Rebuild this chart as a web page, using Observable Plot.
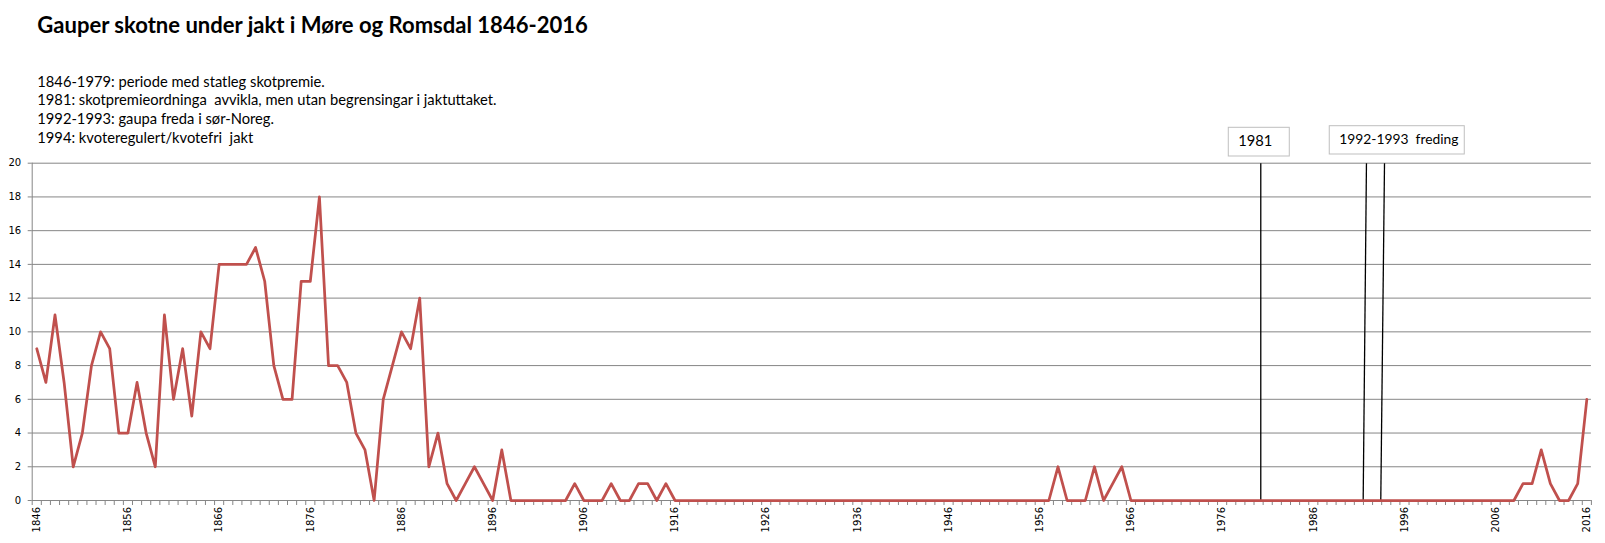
<!DOCTYPE html>
<html>
<head>
<meta charset="utf-8">
<script src="https://cdn.jsdelivr.net/npm/d3@7"></script>
<script src="https://cdn.jsdelivr.net/npm/@observablehq/plot@0.6"></script>
<style>
  html, body { margin: 0; padding: 0; background: #fff; }
  #chart { position: relative; width: 1605px; height: 543px; overflow: hidden; }
</style>
</head>
<body>
<div id="chart"></div>
<script>
// ---- data ----
const years = d3.range(1846, 2017);
const lynx = [
  9, 7, 11, 7, 2, 4, 8, 10, 9, 4,          // 1846-1855
  4, 7, 4, 2, 11, 6, 9, 5, 10, 9,          // 1856-1865
  14, 14, 14, 14, 15, 13, 8, 6, 6, 13,     // 1866-1875
  13, 18, 8, 8, 7, 4, 3, 0, 6, 8,          // 1876-1885
  10, 9, 12, 2, 4, 1, 0, 1, 2, 1,          // 1886-1895
  0, 3, 0, 0, 0, 0, 0, 0, 0, 1,            // 1896-1905
  0, 0, 0, 1, 0, 0, 1, 1, 0, 1,            // 1906-1915
  0, 0, 0, 0, 0, 0, 0, 0, 0, 0,            // 1916-1925
  0, 0, 0, 0, 0, 0, 0, 0, 0, 0,            // 1926-1935
  0, 0, 0, 0, 0, 0, 0, 0, 0, 0,            // 1936-1945
  0, 0, 0, 0, 0, 0, 0, 0, 0, 0,            // 1946-1955
  0, 0, 2, 0, 0, 0, 2, 0, 1, 2,            // 1956-1965
  0, 0, 0, 0, 0, 0, 0, 0, 0, 0,            // 1966-1975
  0, 0, 0, 0, 0, 0, 0, 0, 0, 0,            // 1976-1985
  0, 0, 0, 0, 0, 0, 0, 0, 0, 0,            // 1986-1995
  0, 0, 0, 0, 0, 0, 0, 0, 0, 0,            // 1996-2005
  0, 0, 0, 1, 1, 3, 1, 0, 0, 1,            // 2006-2015
  6                                        // 2016
];
const yTicks = [0, 2, 4, 6, 8, 10, 12, 14, 16, 18, 20];
const xLabelYears = [1846, 1856, 1866, 1876, 1886, 1896, 1906, 1916, 1926, 1936, 1946, 1956, 1966, 1976, 1986, 1996, 2006, 2016];
const xTickBounds = d3.range(1845.5, 2017, 1);

// hand-drawn marker lines (year at top of frame, year at bottom)
const markerTop = [1980.24, 1991.83, 1993.81];
const markerBottom = [1980.24, 1991.47, 1993.40];
const markerLines = markerTop.map((t, i) => ({top: t, bottom: markerBottom[i]}));

const boxLabels = ["1981", "1992-1993  freding"];

const titleText = "Gauper skotne under jakt i Møre og Romsdal 1846-2016";
const subtitleLines = [
  "1846-1979: periode med statleg skotpremie.",
  "1981: skotpremieordninga  avvikla, men utan begrensingar i jaktuttaket.",
  "1992-1993: gaupa freda i sør-Noreg.",
  "1994: kvoteregulert/kvotefri  jakt"
];

const data = years.map((y, i) => ({year: y, n: lynx[i]}));

// ---- chart ----
const chart = Plot.plot({
  width: 1605,
  height: 543,
  marginTop: 162.7,
  marginBottom: 43,
  marginLeft: 31.7,
  marginRight: 14.1,
  x: {type: "linear", domain: [1845.5, 2016.5]},
  y: {domain: [0, 20]},
  style: {fontFamily: "'DejaVu Sans', sans-serif", fontSize: "10px", color: "#000", background: "#fff", overflow: "visible"},
  marks: [
    Plot.ruleY(yTicks.filter(d => d > 0), {stroke: "#868686", strokeWidth: 1, strokeOpacity: 1}),
    Plot.ruleX([1845.5], {stroke: "#868686", strokeWidth: 1}),
    Plot.axisY({ticks: yTicks, tickSize: 4, tickPadding: 7, stroke: "#868686", strokeOpacity: 1, fill: "#000", tickFormat: d => String(d), label: null}),
    Plot.axisX({ticks: xTickBounds, tickSize: 5, tickPadding: 0, stroke: "#868686", strokeOpacity: 1, tickFormat: () => "", label: null}),
    Plot.axisX({ticks: xLabelYears, tickSize: 0, tickPadding: 6.5, tickRotate: -90, fill: "#000", tickFormat: d => String(d), label: null}),
    Plot.ruleY([0], {stroke: "#868686", strokeWidth: 1}),
    Plot.link(markerLines, {x1: "top", x2: "bottom", y1: () => 20, y2: () => 0, stroke: "#000", strokeWidth: 1.3}),
    Plot.line(data, {x: "year", y: "n", stroke: "#C0504D", strokeWidth: 2.75, strokeLinejoin: "round", strokeLinecap: "round"})
  ]
});
document.getElementById("chart").appendChild(chart);

// ---- annotations / titles drawn into the same svg ----
const svg = d3.select(chart);
const xs = chart.scale("x");
const txtFont = "Lato, 'Open Sans', sans-serif";
const layer = svg.append("g").attr("text-anchor", "start");

function fitText(sel, target) {
  const node = sel.node();
  sel.attr("font-size", 100);
  const len = node.getComputedTextLength();
  const size = 100 * target / len;
  sel.attr("font-size", size);
  return size;
}

const title = layer.append("text")
  .attr("x", 37.3).attr("y", 33.3)
  .attr("text-anchor", "start")
  .attr("font-family", txtFont).attr("font-weight", "bold")
  .attr("fill", "#000")
  .style("white-space", "pre")
  .text(titleText);
fitText(title, 551);

const subBase = [86.5, 105.2, 124, 142.7];
const subs = subtitleLines.map((s, i) => layer.append("text")
  .attr("x", 37.3).attr("y", subBase[i])
  .attr("text-anchor", "start")
  .attr("font-family", txtFont).attr("fill", "#000")
  .style("white-space", "pre")
  .text(s));
const subSize = fitText(subs[1], 459.4);
subs.forEach(s => s.attr("font-size", subSize));

// boxes
const l1 = xs.apply(markerTop[0]);
const l2 = xs.apply(markerTop[1]);
const boxes = [
  {x: l1 - 32, y: 127.3, w: 61, h: 28.7, tx: l1 - 22, ty: 146, label: boxLabels[0], fs: subSize},
  {x: l2 - 36.7, y: 125.7, w: 135, h: 28.3, tx: l2 - 26.7, ty: 144, label: boxLabels[1], fs: subSize * 0.94}
];
boxes.forEach(b => {
  layer.append("rect")
    .attr("x", b.x).attr("y", b.y).attr("width", b.w).attr("height", b.h)
    .attr("fill", "#fff").attr("stroke", "#bfbfbf").attr("stroke-width", 1);
  layer.append("text")
    .attr("x", b.tx).attr("y", b.ty)
    .attr("text-anchor", "start")
    .attr("font-family", txtFont).attr("font-size", b.fs).attr("fill", "#000")
    .style("white-space", "pre")
    .text(b.label);
});
</script>
</body>
</html>
